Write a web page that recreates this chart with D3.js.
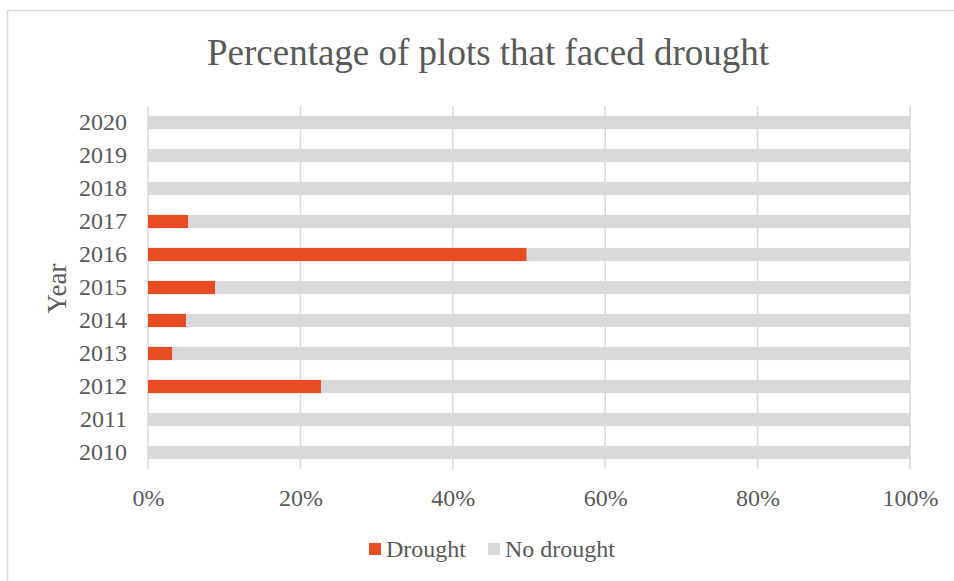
<!DOCTYPE html>
<html>
<head>
<meta charset="utf-8">
<script src="https://cdn.jsdelivr.net/npm/d3@7"></script>
<style>
  body { margin: 0; background: #fff; }
  text { font-family: "Liberation Serif", "Times New Roman", serif; fill: #595959; }
</style>
</head>
<body>
<div id="chart"></div>
<script>
const width = 954, height = 581
const margin = { top: 106, right: 44, bottom: 112, left: 148 }

// years top to bottom as drawn
const years = ["2020", "2019", "2018", "2017", "2016", "2015", "2014", "2013", "2012", "2011", "2010"]
// share of plots with drought, in %
const drought = [0, 0, 0, 5.3, 49.7, 8.8, 5.0, 3.2, 22.7, 0, 0]
const noDrought = drought.map(d => 100 - d)
const xTicks = [0, 20, 40, 60, 80, 100]
const seriesNames = ["Drought", "No drought"]
const colors = ["#E84C22", "#D9D9D9"]

const svg = d3.select("#chart").append("svg")
    .attr("width", width)
    .attr("height", height)

// outer frame of the chart
svg.append("rect")
    .attr("x", 7.5).attr("y", 10.5)
    .attr("width", width).attr("height", height)
    .attr("fill", "none")
    .attr("stroke", "#D9D9D9")
    .attr("stroke-width", 1.5)

svg.append("text")
    .attr("x", 488).attr("y", 65)
    .attr("text-anchor", "middle")
    .style("font-size", "37px")
    .text("Percentage of plots that faced drought")

const x = d3.scaleLinear()
    .domain([0, 100])
    .range([margin.left, width - margin.right])

const y = d3.scaleBand()
    .domain(years)
    .range([margin.top, height - margin.bottom])
    .paddingInner(0.6)
    .paddingOuter(0.3)

//gridlines
svg.append("g")
    .selectAll("line")
    .data(xTicks)
    .join("line")
    .attr("x1", d => x(d)).attr("x2", d => x(d))
    .attr("y1", margin.top).attr("y2", height - margin.bottom)
    .attr("stroke", "#D9D9D9")
    .attr("stroke-width", 1.5)

const rows = years.map((yr, i) => ({ year: yr, drought: drought[i], none: noDrought[i] }))

svg.append("g")
    .selectAll("rect")
    .data(rows)
    .join("rect")
    .attr("x", x(0))
    .attr("y", d => y(d.year))
    .attr("width", d => x(d.drought) - x(0))
    .attr("height", y.bandwidth())
    .attr("fill", colors[0])

svg.append("g")
    .selectAll("rect")
    .data(rows)
    .join("rect")
    .attr("x", d => x(d.drought))
    .attr("y", d => y(d.year))
    .attr("width", d => x(d.drought + d.none) - x(d.drought))
    .attr("height", y.bandwidth())
    .attr("fill", colors[1])

// axes, styled to look like the office chart
const xAxis = svg.append("g")
    .attr("transform", `translate(0,${height - margin.bottom})`)
    .call(d3.axisBottom(x).tickValues(xTicks).tickFormat(d => d + "%").tickSize(0).tickPadding(20))
xAxis.select(".domain").remove()
xAxis.selectAll("text").style("font-size", "24px").attr("fill", "#595959")

const yAxis = svg.append("g")
    .attr("transform", `translate(${margin.left},0)`)
    .call(d3.axisLeft(y).tickSize(0).tickPadding(21))
yAxis.select(".domain").remove()
yAxis.selectAll("text").style("font-size", "24px").attr("fill", "#595959")

svg.append("text")
    .attr("transform", `translate(66,${(margin.top + height - margin.bottom) / 2 + 1}) rotate(-90)`)
    .attr("text-anchor", "middle")
    .style("font-size", "27px")
    .text("Year")

// legend
const legendX = [369, 488]
const legend = svg.append("g")
    .selectAll("g")
    .data(seriesNames)
    .join("g")
    .attr("transform", (d, i) => `translate(${legendX[i]},543)`)

legend.append("rect")
    .attr("width", 12).attr("height", 12)
    .attr("fill", (d, i) => colors[i])

legend.append("text")
    .attr("x", 17).attr("y", 14)
    .style("font-size", "24px")
    .text(d => d)
</script>
</body>
</html>
